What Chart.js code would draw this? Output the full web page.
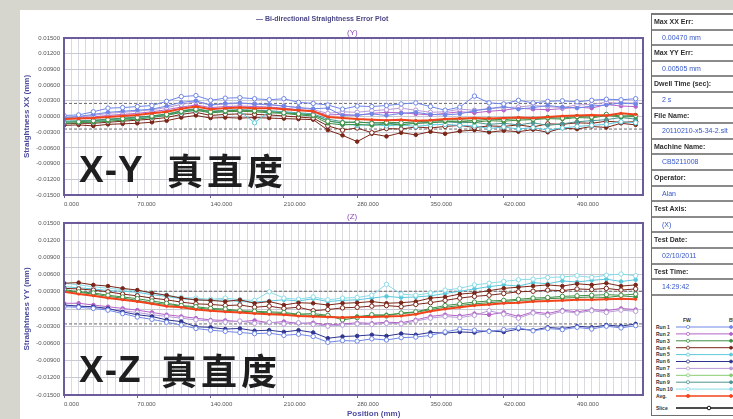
<!DOCTYPE html>
<html>
<head>
<meta charset="utf-8">
<script src="https://cdn.jsdelivr.net/npm/chart.js@4.4.1/dist/chart.umd.min.js"></script>
<style>
  html, body { margin: 0; padding: 0; }
  body { width: 733px; height: 419px; background: #d6d6cf; position: relative; overflow: hidden;
         font-family: "Liberation Sans", Arial, sans-serif; }
  #sheet { position: absolute; left: 20px; top: 10px; width: 713px; height: 409px; background: #fff; }
  canvas { position: absolute; }
  #cXY { left: 20px; top: 10px; }
  #cXZ { left: 20px; top: 210px; }
  .txt { position: absolute; white-space: nowrap; }
  .plotTitle { font-size: 7px; font-weight: bold; color: #4c4886; }
  .axisName { font-size: 8px; color: #8a4cb8; }
  .big { font-weight: bold; color: #1e1e1e; line-height: 1; }
  .latin { font-family: "Liberation Sans", Arial, sans-serif; font-size: 37px; letter-spacing: 1px; }
  .cjk { font-family: "Noto Sans CJK SC", sans-serif; font-size: 36px; letter-spacing: 4px; }
  #info { position: absolute; left: 651px; top: 13px; width: 90px; border-left: 1px solid #6e6e6e; border-top: 2px solid #7a7a7a; }
  .row { height: 13.6px; line-height: 13.6px; border-bottom: 2px solid #8a8a8a; font-size: 7px; white-space: nowrap; overflow: hidden; }
  .lab { font-weight: bold; color: #2f2f2f; padding-left: 2px; }
  .val { color: #3556c8; padding-left: 10px; }
  #legendBox { position: absolute; left: 651px; top: 296px; width: 90px; height: 119px; border-left: 1px solid #6e6e6e; border-bottom: 1px solid #6e6e6e; }
</style>
</head>
<body>
<div id="sheet"></div>
<canvas id="cXY" width="628" height="200"></canvas>
<canvas id="cXZ" width="628" height="209"></canvas>

<div class="txt plotTitle" style="left:256px; top:15px;">&#8212; Bi-directional Straightness Error Plot</div>
<div class="txt axisName" style="left:347px; top:28px;">(Y)</div>
<div class="txt axisName" style="left:347px; top:212px;">(Z)</div>
<div class="txt" style="left:347px; top:409px; font-size:8px; font-weight:bold; color:#4f4f9f;">Position (mm)</div>

<div class="txt big latin" style="left:79px; top:151px;">X-Y</div>
<div class="txt big cjk" style="left:167px; top:151px;">真直度</div>
<div class="txt big latin" style="left:79px; top:351px;">X-Z</div>
<div class="txt big cjk" style="left:161px; top:351px;">真直度</div>

<div id="info"></div>
<div id="legendBox"><svg id="legendSvg" width="90" height="119"></svg></div>

<script>
// Measurement stations along the travel (mm)
const positionMm = [0,14,28,42,56,70,84,98,112,126,140,154,168,182,196,210,224,238,252,266,
                    280,294,308,322,336,350,364,378,392,406,420,434,448,462,476,490,504,518,532,546];

// Straightness XX (horizontal, Y direction) in micrometres
const run1FwXX = [0.2,0.3,0.9,1.6,1.7,1.9,2.1,2.9,3.8,4.0,3.1,3.5,3.6,3.4,3.2,3.4,2.7,2.5,2.2,1.4,2.0,1.9,2.1,2.4,2.6,1.9,1.2,1.8,3.9,2.6,2.4,3.1,2.6,2.9,3.0,2.8,3.1,3.3,3.2,3.4];
const run1BwXX = [-0.2,0.0,0.4,0.8,1.0,1.2,1.4,2.0,2.7,3.0,2.2,2.5,2.6,2.4,2.3,2.0,1.7,1.5,1.6,0.2,0.3,0.5,0.2,0.6,0.8,0.4,0.3,0.5,1.1,1.5,1.9,1.4,1.7,2.1,1.8,1.6,2.0,2.2,2.6,2.4];
const run2FwXX = [-0.3,-0.1,0.2,0.6,0.8,1.0,1.3,1.7,2.3,2.8,2.2,2.4,2.5,2.4,2.2,2.0,1.7,1.3,0.6,0.9,0.8,1.1,1.3,1.6,1.2,0.8,0.9,1.4,1.2,1.5,1.7,1.8,2.1,1.9,1.7,2.2,2.3,2.7,2.5,2.6];
const run2BwXX = [-0.5,-0.3,-0.1,0.2,0.4,0.6,0.9,1.3,1.8,2.2,1.7,1.9,2.0,1.9,1.8,1.6,1.3,1.0,0.3,0.4,0.2,0.6,0.8,0.7,0.5,0.3,0.6,0.9,0.7,1.0,1.2,1.6,1.4,1.3,1.5,1.8,1.6,2.3,2.0,1.9];
const run3FwXX = [-1.1,-1.0,-0.8,-0.6,-0.4,-0.2,0.1,0.4,1.0,1.4,0.9,1.1,1.2,1.1,0.9,0.7,0.5,0.3,-0.9,-1.2,-1.0,-1.3,-1.1,-1.2,-1.0,-0.9,-0.7,-0.6,-0.8,-0.5,-0.6,-0.4,-0.5,-0.2,-0.3,0.0,-0.1,0.4,0.1,0.2];
const run3BwXX = [-1.3,-1.2,-1.1,-0.9,-0.7,-0.5,-0.2,0.2,0.8,1.2,0.7,0.9,1.0,0.9,0.7,0.6,0.3,0.1,-1.3,-1.6,-1.5,-1.7,-1.4,-1.6,-1.3,-1.2,-1.0,-0.9,-1.1,-0.8,-0.9,-0.7,-0.6,-0.4,-0.5,-0.2,-0.3,0.2,-0.1,0.0];
const run4FwXX = [-1.4,-1.3,-1.3,-1.1,-0.9,-0.7,-0.5,-0.2,0.4,0.8,0.2,0.4,0.5,0.4,0.3,0.1,-0.1,-0.3,-1.8,-2.6,-2.2,-3.1,-2.3,-2.4,-2.0,-2.2,-1.9,-1.7,-2.1,-1.8,-1.9,-1.6,-2.0,-1.4,-1.5,-1.2,-1.3,-0.9,-1.1,-1.0];
const run4BwXX = [-1.7,-1.6,-1.8,-1.5,-1.4,-1.3,-1.1,-0.8,-0.2,0.2,-0.3,-0.2,-0.3,-0.2,-0.3,-0.4,-0.5,-0.6,-2.6,-3.6,-4.8,-3.3,-3.8,-3.1,-3.5,-2.9,-3.3,-2.8,-2.6,-3.0,-2.7,-2.9,-2.5,-3.0,-2.2,-2.4,-1.9,-2.1,-1.3,-1.6];
const run5FwXX = [-1.0,-0.9,-1.0,-0.7,-0.5,-0.3,-0.1,0.3,0.8,1.2,0.8,1.0,1.0,-1.2,1.0,0.8,0.6,0.4,-0.8,-1.4,-1.7,-1.5,-1.8,-1.6,-1.9,-1.6,-1.5,-1.7,-1.8,-2.3,-2.0,-2.4,-2.1,-2.6,-2.2,-1.9,-1.7,-1.5,-1.0,-1.2];
const run5BwXX = [-0.9,-0.8,-0.7,-0.5,-0.3,-0.1,0.1,0.5,1.1,1.5,1.0,1.2,1.3,1.2,1.1,0.9,0.7,0.5,-0.5,-1.0,-1.2,-1.1,-1.4,-1.2,-1.3,-1.1,-1.0,-1.2,-1.1,-1.5,-1.3,-1.6,-1.2,-1.7,-1.4,-1.0,-0.8,-0.6,-0.2,-0.5];
const avgXX    = [-0.5,-0.4,-0.3,-0.1,0.1,0.3,0.6,0.9,1.5,1.9,1.4,1.6,1.7,1.6,1.6,1.4,1.2,1.0,-0.1,-0.3,-0.5,-0.6,-0.7,-0.6,-0.8,-0.7,-0.5,-0.4,-0.3,-0.4,-0.3,-0.2,-0.3,-0.1,0.1,0.2,0.3,0.2,0.6,0.4];

// Straightness YY (vertical, Z direction) in micrometres
const run1FwYY = [0.4,0.3,0.1,-0.2,-0.8,-1.4,-1.8,-2.3,-2.8,-3.4,-3.7,-3.9,-4.1,-4.3,-4.2,-4.6,-4.4,-4.8,-5.8,-5.5,-5.6,-5.2,-5.4,-5.0,-4.9,-4.6,-4.0,-3.5,-3.7,-3.9,-3.6,-3.3,-3.8,-3.4,-3.6,-3.2,-3.5,-3.0,-3.3,-2.9];
const run1BwYY = [0.7,0.5,0.4,0.1,-0.5,-1.0,-1.3,-1.9,-2.2,-3.1,-3.2,-3.5,-3.4,-3.8,-3.7,-4.0,-3.7,-4.1,-5.1,-4.8,-4.7,-4.5,-4.7,-4.3,-4.5,-4.1,-4.2,-4.0,-4.1,-3.8,-4.0,-3.5,-3.7,-3.2,-3.4,-3.0,-3.2,-2.8,-3.0,-2.6];
const run2FwYY = [0.6,0.5,0.3,0.0,-0.3,-0.6,-1.0,-1.3,-1.6,-1.9,-2.1,-2.3,-2.1,-2.5,-2.3,-2.6,-2.4,-2.7,-3.0,-2.8,-2.6,-2.7,-2.5,-2.6,-2.1,-1.6,-1.3,-1.5,-1.1,-0.3,-0.9,-1.6,-0.7,-1.1,-0.4,-0.7,-0.3,-0.6,-0.2,-0.4];
const run2BwYY = [1.0,1.0,0.7,0.4,0.1,-0.2,-0.6,-1.0,-1.3,-1.6,-1.9,-2.0,-2.2,-2.0,-2.4,-2.2,-2.5,-2.4,-2.8,-2.6,-2.4,-2.5,-2.3,-2.4,-1.9,-1.3,-1.0,-1.2,-0.8,-1.0,-0.6,-1.3,-0.5,-0.8,-0.2,-0.5,-0.1,-0.3,0.1,-0.1];
const run3FwYY = [3.4,3.0,2.8,2.4,2.1,1.8,1.4,1.0,0.6,0.4,0.1,0.0,-0.3,-0.4,-0.5,-0.6,-0.9,-0.8,-1.1,-1.9,-1.5,-1.0,-1.2,-0.7,-0.5,0.1,0.6,0.9,1.2,1.4,1.5,1.7,1.9,2.0,2.2,2.3,2.4,2.5,2.4,2.6];
const run3BwYY = [3.2,2.9,2.6,2.2,1.9,1.5,1.1,0.8,0.5,0.2,-0.1,-0.2,-0.4,-0.5,-0.7,-0.8,-1.0,-1.1,-1.2,-1.6,-1.3,-1.1,-1.0,-0.8,-0.6,-0.1,0.3,0.6,0.9,1.1,1.3,1.5,1.6,1.8,1.9,2.0,2.1,2.0,2.3,2.1];
const run4FwYY = [3.6,3.5,3.3,3.0,2.6,2.3,1.9,1.6,1.2,0.9,0.8,0.6,0.7,0.3,0.5,0.1,0.3,-0.3,-0.1,0.2,0.3,0.5,0.6,0.4,0.8,1.1,1.5,1.9,2.2,2.4,2.7,3.0,3.1,3.3,3.2,3.5,3.4,3.6,3.3,3.5];
const run4BwYY = [4.5,4.6,4.2,4.0,3.6,3.3,2.8,2.4,1.9,1.6,1.5,1.3,1.6,1.0,1.3,0.7,1.1,1.0,0.7,1.0,1.1,1.3,1.0,1.1,1.3,1.9,2.1,2.6,2.8,3.2,3.6,3.8,4.0,4.2,4.0,4.4,4.2,4.5,4.0,4.2];
const run5FwYY = [4.5,4.2,3.9,3.6,3.4,3.2,2.8,2.4,2.0,1.9,1.7,1.9,1.6,1.5,3.0,1.9,1.7,2.1,1.6,1.9,2.0,2.4,4.3,2.6,2.4,2.8,3.3,3.6,4.2,4.5,4.8,5.1,5.2,5.5,5.6,5.8,5.5,5.9,6.1,5.8];
const run5BwYY = [3.9,3.7,3.5,3.2,3.1,2.9,2.5,2.2,1.8,1.6,1.5,1.6,1.3,1.2,1.4,1.6,1.4,1.8,1.3,1.5,1.6,1.9,2.2,2.0,2.1,2.3,2.7,3.1,3.5,3.9,4.2,4.0,4.6,4.4,4.9,4.7,5.0,5.2,4.8,5.1];
const avgYY    = [3.0,2.6,2.3,1.9,1.6,1.3,0.9,0.5,0.3,-0.1,-0.3,-0.5,-0.6,-0.8,-0.9,-1.0,-1.2,-1.3,-1.4,-1.5,-1.4,-1.4,-1.3,-1.2,-0.9,-0.4,0.0,0.3,0.6,0.8,1.0,1.1,1.3,1.4,1.5,1.6,1.6,1.7,1.8,1.7];

// Upper / lower reference bands (micrometres)
const bandXX = [2.5, -2.4];
const bandYY = [3.1, -2.6];

// Axis extents
const travelMm = [0, 553];
const errorRangeMm = [-0.015, 0.015];
const errorStepMm = 0.003;
const gridStepMm = 7;
const labelStepMm = 70;

// Side panel text
const infoLabels = ['Max XX Err:', 'Max YY Err:', 'Dwell Time (sec):', 'File Name:', 'Machine Name:', 'Operator:', 'Test Axis:', 'Test Date:', 'Test Time:'];
const infoValues = ['0.00470 mm', '0.00505 mm', '2 s', '20110210-x5-34-2.slt', 'CB5211008', 'Alan', '(X)', '02/10/2011', '14:29:42'];
const legendNames = ['Run 1', 'Run 2', 'Run 3', 'Run 4', 'Run 5', 'Run 6', 'Run 7', 'Run 8', 'Run 9', 'Run 10', 'Avg.'];

const runColors = ['#6f86e6', '#b462c8', '#3f8f45', '#7a2518', '#5cc8dc', '#2e3590', '#b79ad6', '#86cc70', '#4c9590', '#8adbe8'];
const avgColor = '#f2431c';

function pts(values) {
  return positionMm.map((x, i) => ({ x: x, y: values[i] / 1000 }));
}

function runSet(values, color, backward) {
  return {
    data: pts(values),
    borderColor: color,
    borderWidth: 1,
    pointRadius: backward ? 1.8 : 2.2,
    pointBorderWidth: 1,
    pointBorderColor: color,
    pointBackgroundColor: backward ? color : '#ffffff',
    tension: 0
  };
}

function avgSet(values) {
  return {
    data: pts(values),
    borderColor: avgColor,
    borderWidth: 2,
    pointRadius: 1.5,
    pointBorderWidth: 0,
    pointBackgroundColor: avgColor,
    tension: 0
  };
}

function bandSet(valueUm) {
  return {
    data: [{ x: travelMm[0], y: valueUm / 1000 }, { x: travelMm[1], y: valueUm / 1000 }],
    borderColor: '#6a6a6a',
    borderWidth: 1,
    borderDash: [3, 2],
    pointRadius: 0
  };
}

const framePlugin = {
  id: 'plotFrame',
  afterDatasetsDraw(chart) {
    const { ctx, chartArea: a } = chart;
    ctx.save();
    ctx.strokeStyle = '#6c5c9c';
    ctx.lineWidth = 2;
    ctx.strokeRect(a.left, a.top, a.right - a.left, a.bottom - a.top);
    ctx.restore();
  }
};

function makeChart(canvasId, yTitle, datasets, topPad, xAxisHeight) {
  return new Chart(document.getElementById(canvasId), {
    type: 'line',
    data: { datasets: datasets },
    plugins: [framePlugin],
    options: {
      responsive: false,
      animation: false,
      devicePixelRatio: 1,
      layout: { padding: { top: topPad, right: 5, left: 0, bottom: 0 } },
      plugins: { legend: { display: false }, tooltip: { enabled: false }, title: { display: false } },
      scales: {
        x: {
          type: 'linear',
          min: travelMm[0],
          max: travelMm[1],
          border: { display: false },
          grid: {
            color: '#dadae3',
            lineWidth: 1,
            tickLength: 3,
            tickColor: (c) => (c.tick && c.tick.value % labelStepMm === 0) ? '#6c5c9c' : 'rgba(0,0,0,0)'
          },
          ticks: {
            stepSize: gridStepMm,
            autoSkip: false,
            maxRotation: 0,
            minRotation: 0,
            align: 'start',
            padding: 3,
            color: '#555',
            font: { size: 6, family: 'Liberation Sans' },
            callback: (v) => (v % labelStepMm === 0) ? Number(v).toFixed(3) : ''
          },
          afterFit: (s) => { s.height = xAxisHeight; }
        },
        y: {
          min: errorRangeMm[0],
          max: errorRangeMm[1],
          border: { display: false },
          grid: { color: '#c9c9d3', lineWidth: 1, drawTicks: false },
          ticks: {
            stepSize: errorStepMm,
            padding: 4,
            color: '#555',
            font: { size: 6, family: 'Liberation Sans' },
            callback: (v) => (Math.abs(v) < 1e-9 ? 0 : v).toFixed(5)
          },
          title: {
            display: true,
            text: yTitle,
            color: '#4b4b9b',
            font: { size: 8, weight: 'bold', family: 'Liberation Sans' },
            padding: { top: 2, bottom: 0 }
          },
          afterFit: (s) => { s.width = 44; }
        }
      }
    }
  });
}

const xxSets = [
  avgSet(avgXX),
  runSet(run1FwXX, runColors[0], false), runSet(run1BwXX, runColors[0], true),
  runSet(run2FwXX, runColors[6], false), runSet(run2BwXX, runColors[1], true),
  runSet(run3FwXX, runColors[2], false), runSet(run3BwXX, runColors[2], true),
  runSet(run5FwXX, runColors[4], false), runSet(run5BwXX, runColors[8], true),
  runSet(run4FwXX, runColors[3], false), runSet(run4BwXX, runColors[3], true),
  bandSet(bandXX[0]), bandSet(bandXX[1])
];

const yySets = [
  avgSet(avgYY),
  runSet(run1FwYY, runColors[0], false), runSet(run1BwYY, runColors[5], true),
  runSet(run2FwYY, runColors[6], false), runSet(run2BwYY, runColors[1], true),
  runSet(run3FwYY, runColors[2], false), runSet(run3BwYY, runColors[2], true),
  runSet(run4FwYY, runColors[3], false), runSet(run4BwYY, runColors[3], true),
  runSet(run5FwYY, runColors[9], false), runSet(run5BwYY, runColors[4], true),
  bandSet(bandYY[0]), bandSet(bandYY[1])
];

makeChart('cXY', 'Straightness XX (mm)', xxSets, 28, 15);
makeChart('cXZ', 'Straightness YY (mm)', yySets, 13, 24);

// Side information table
const info = document.getElementById('info');
infoLabels.forEach((lab, i) => {
  const r1 = document.createElement('div');
  r1.className = 'row lab';
  r1.textContent = lab;
  const r2 = document.createElement('div');
  r2.className = 'row val';
  r2.textContent = infoValues[i];
  info.appendChild(r1);
  info.appendChild(r2);
});

// Run legend (FW = open marker, BW = filled marker)
const NS = 'http://www.w3.org/2000/svg';
const svg = document.getElementById('legendSvg');
function el(tag, attrs, text) {
  const e = document.createElementNS(NS, tag);
  for (const k in attrs) e.setAttribute(k, attrs[k]);
  if (text) e.textContent = text;
  svg.appendChild(e);
  return e;
}
const legendFont = { 'font-family': 'Liberation Sans, Arial, sans-serif', 'font-size': '5px', 'font-weight': 'bold', fill: '#333' };
el('text', Object.assign({ x: 31, y: 26 }, legendFont), 'FW');
el('text', Object.assign({ x: 77, y: 26 }, legendFont), 'BW');
legendNames.forEach((name, i) => {
  const y = 31 + i * 6.9;
  const c = i < runColors.length ? runColors[i] : avgColor;
  el('text', Object.assign({ x: 4, y: y + 1.8 }, legendFont), name);
  el('line', { x1: 24, y1: y, x2: 90, y2: y, stroke: c, 'stroke-width': i < runColors.length ? 1 : 1.5 });
  el('circle', { cx: 36, cy: y, r: 1.6, fill: i < runColors.length ? '#fff' : c, stroke: c, 'stroke-width': 0.8 });
  el('circle', { cx: 79, cy: y, r: 1.5, fill: c, stroke: c, 'stroke-width': 0.8 });
});
el('text', Object.assign({ x: 4, y: 113.8 }, legendFont), 'Slice');
el('line', { x1: 24, y1: 112, x2: 90, y2: 112, stroke: '#111', 'stroke-width': 1.5 });
el('circle', { cx: 57, cy: 112, r: 1.8, fill: '#fff', stroke: '#111', 'stroke-width': 1 });
</script>
</body>
</html>
